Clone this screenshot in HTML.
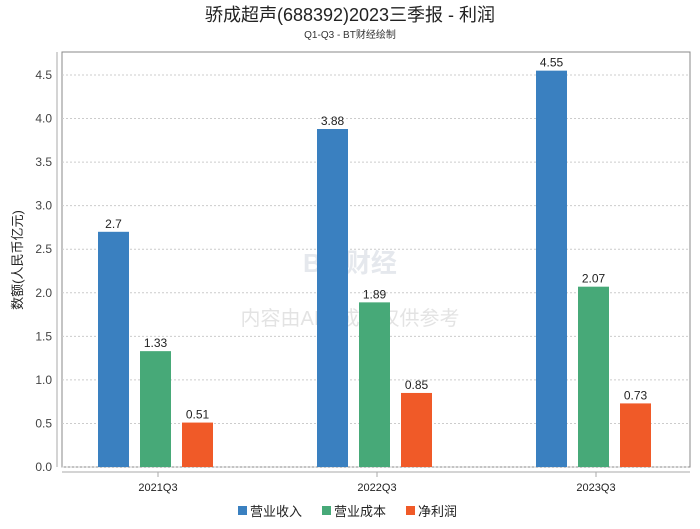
<!DOCTYPE html>
<html><head><meta charset="utf-8"><style>
body{margin:0;background:#fff;width:700px;height:524px;overflow:hidden;font-family:"Liberation Sans","Noto Sans CJK SC",sans-serif}
</style></head><body>
<svg width="700" height="524" xmlns="http://www.w3.org/2000/svg" id="chart">
<text x="350" y="21" text-anchor="middle" font-size="18" fill="#222">骄成超声(688392)2023三季报 - 利润</text>
<text x="350" y="38" text-anchor="middle" font-size="10" fill="#333">Q1-Q3 - BT财经绘制</text>
<rect x="62" y="52" width="628" height="415" fill="#fff" stroke="#888"/>
<g id="grid"></g>
<text x="350" y="272" text-anchor="middle" font-size="26" font-weight="bold" fill="#ccd3dc" opacity="0.5">BT 财经</text>
<text x="350" y="325" text-anchor="middle" font-size="20" fill="#ddd" opacity="0.8">内容由AI生成，仅供参考</text>
<g id="bars"></g>
<line x1="62" y1="472" x2="690" y2="472" stroke="#aaa"/>
<line x1="57" y1="52" x2="57" y2="467" stroke="#aaa"/>
<text x="22" y="260" transform="rotate(-90 22 260)" text-anchor="middle" font-size="13" fill="#222">数额(人民币亿元)</text>
<g id="legend">
<rect x="238" y="506" width="9" height="9" fill="#3a80c0"/>
<text x="250" y="516" font-size="13" fill="#222">营业收入</text>
<rect x="322" y="506" width="9" height="9" fill="#47a978"/>
<text x="334" y="516" font-size="13" fill="#222">营业成本</text>
<rect x="406" y="506" width="9" height="9" fill="#f05a28"/>
<text x="418" y="516" font-size="13" fill="#222">净利润</text>
</g>
</svg>
<script>
const categories=["2021Q3","2022Q3","2023Q3"];
const revenue=[2.7,3.88,4.55];
const cost=[1.33,1.89,2.07];
const profit=[0.51,0.85,0.73];
const yTicks=[0,0.5,1.0,1.5,2.0,2.5,3.0,3.5,4.0,4.5];
const NS="http://www.w3.org/2000/svg";
const y0=467,unit=(467-75)/4.5;
function yScale(v){return y0-v*unit;}
function xCenter(i){return 158+i*219;}
const grid=document.getElementById('grid');
yTicks.forEach(t=>{
 const l=document.createElementNS(NS,'line');
 l.setAttribute('x1',62);l.setAttribute('x2',690);
 l.setAttribute('y1',yScale(t));l.setAttribute('y2',yScale(t));
 l.setAttribute('stroke','#ccc');l.setAttribute('stroke-dasharray','2,2');
 
 
 grid.appendChild(l);
 const tx=document.createElementNS(NS,'text');
 tx.setAttribute('x',52);tx.setAttribute('y',yScale(t)+4);
 tx.setAttribute('text-anchor','end');tx.setAttribute('font-size','12');tx.setAttribute('fill','#444');
 tx.textContent=t.toFixed(1);
 
 
 grid.appendChild(tx);
});
const bars=document.getElementById('bars');
const series=[[revenue,'#3a80c0','revenue'],[cost,'#47a978','cost'],[profit,'#f05a28','profit']];
categories.forEach((c,i)=>{
 const cx=xCenter(i);
 series.forEach((s,j)=>{
  const v=s[0][i];
  const x=cx-60+j*42;
  const r=document.createElementNS(NS,'rect');
  r.setAttribute('x',x);r.setAttribute('width',31);
  r.setAttribute('y',yScale(v));r.setAttribute('height',y0-yScale(v));
  r.setAttribute('fill',s[1]);
  
  
  bars.appendChild(r);
  const t=document.createElementNS(NS,'text');
  t.setAttribute('x',x+15.5);t.setAttribute('y',yScale(v)-4);
  t.setAttribute('text-anchor','middle');t.setAttribute('font-size','12');t.setAttribute('fill','#222');
  t.textContent=String(v);
  
  
  bars.appendChild(t);
 });
 const tk=document.createElementNS(NS,'line');
 tk.setAttribute('x1',cx);tk.setAttribute('x2',cx);tk.setAttribute('y1',472);tk.setAttribute('y2',477);
 tk.setAttribute('stroke','#aaa');
 
 
 bars.appendChild(tk);
 const lb=document.createElementNS(NS,'text');
 lb.setAttribute('x',cx);lb.setAttribute('y',491);
 lb.setAttribute('text-anchor','middle');lb.setAttribute('font-size','11');lb.setAttribute('fill','#222');
 lb.textContent=c;
 
 
 bars.appendChild(lb);
});
</script>
</body></html>
